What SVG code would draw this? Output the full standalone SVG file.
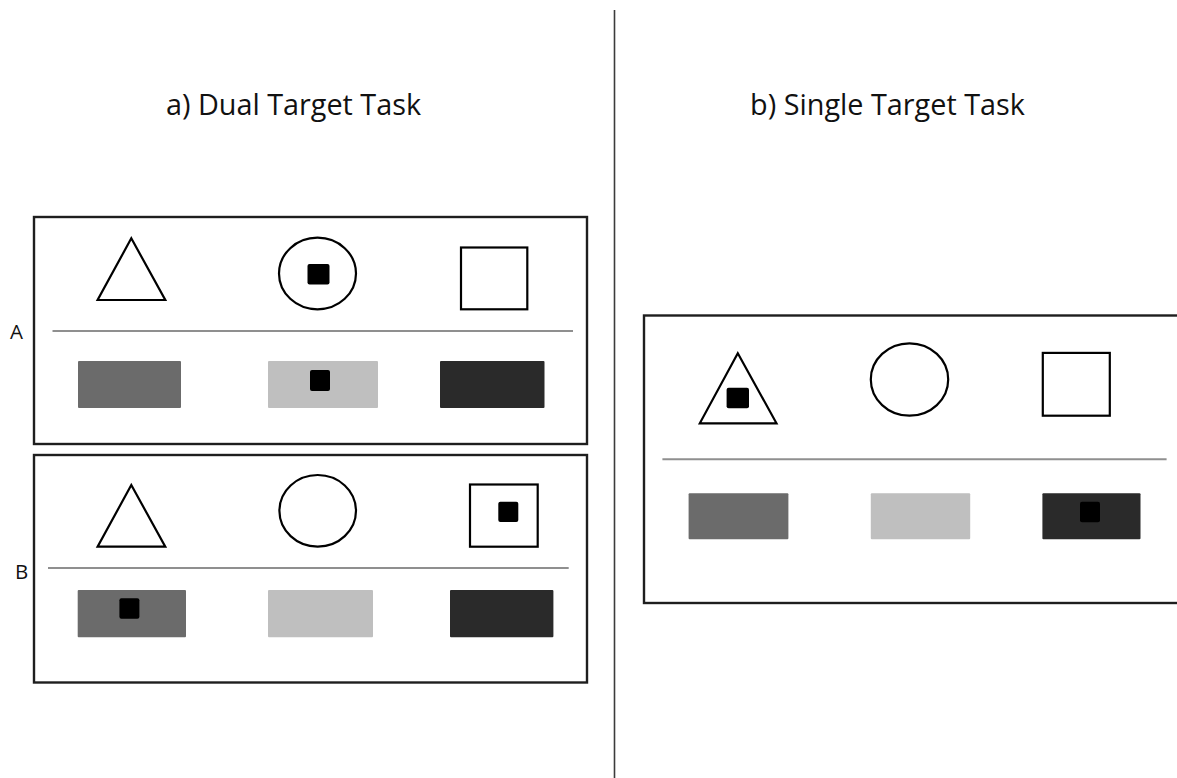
<svg xmlns="http://www.w3.org/2000/svg" width="1177" height="778" viewBox="0 0 1177 778">
  <style>
    .title { font-family: "Open Sans", "Liberation Sans", sans-serif; font-size: 28.8px; fill: #111; text-anchor: middle; }
    .label { font-family: "Open Sans", "Liberation Sans", sans-serif; font-size: 20.5px; fill: #111; text-anchor: middle; }
    .frame { fill: none; stroke: #1e1e1e; stroke-width: 2.4; }
    .shape { fill: #fff; stroke: #000; stroke-width: 2.2; stroke-linejoin: miter; }
    .sep { stroke: #8f8f8f; stroke-width: 2; }
    .mid { fill: #6b6b6b; }
    .light { fill: #bfbfbf; }
    .dark { fill: #2a2a2a; }
    .dot { fill: #000; }
  </style>

  <rect width="1177" height="778" fill="#fff"/>

  <!-- divider between the two conditions -->
  <g id="divider">
    <line x1="614.5" y1="10" x2="614.5" y2="778" stroke="#3c3c3c" stroke-width="1.6"/>
  </g>

  <!-- headings -->
  <g id="titles">
    <text class="title" x="293.5" y="115">a) Dual Target Task</text>
    <text class="title" x="887.5" y="115">b) Single Target Task</text>
  </g>

  <!-- dual target: display A -->
  <g id="display-a">
    <text class="label" x="16.5" y="339">A</text>
    <rect class="frame" x="34" y="217" width="553" height="227"/>
    <polygon class="shape" points="131.3,238.3 97.6,300 165.3,300"/>
    <ellipse class="shape" cx="317.5" cy="273.5" rx="38.5" ry="35.8"/>
    <rect class="dot" x="307.5" y="264" width="22" height="20.5" rx="2"/>
    <rect class="shape" x="461" y="247.5" width="66.3" height="61.8"/>
    <line class="sep" x1="52.5" y1="331" x2="573" y2="331"/>
    <rect class="mid" x="78" y="361" width="103" height="47" rx="1"/>
    <rect class="light" x="268" y="361" width="110" height="47" rx="1"/>
    <rect class="dot" x="310" y="370" width="20" height="21" rx="2"/>
    <rect class="dark" x="440" y="361" width="104.5" height="47" rx="1"/>
  </g>

  <!-- dual target: display B -->
  <g id="display-b">
    <text class="label" x="21.5" y="579">B</text>
    <rect class="frame" x="34" y="455" width="553" height="227.5"/>
    <polygon class="shape" points="131.3,485 97.6,546.7 165.3,546.7"/>
    <ellipse class="shape" cx="317.7" cy="510.8" rx="38.3" ry="35.8"/>
    <rect class="shape" x="470" y="484.5" width="67.7" height="62.2"/>
    <rect class="dot" x="498.3" y="501.7" width="20" height="20.3" rx="2"/>
    <line class="sep" x1="48" y1="568" x2="568.7" y2="568"/>
    <rect class="mid" x="77.7" y="590" width="108.3" height="47.3" rx="1"/>
    <rect class="dot" x="119.4" y="598.3" width="20" height="20.4" rx="2"/>
    <rect class="light" x="268" y="590" width="105" height="47.3" rx="1"/>
    <rect class="dark" x="450" y="590" width="103.4" height="47.3" rx="1"/>
  </g>

  <!-- single target display -->
  <g id="display-single">
    <rect class="frame" x="644" y="315.5" width="540" height="287.5"/>
    <polygon class="shape" points="737.8,353.3 699.8,423.3 776.5,423.3"/>
    <rect class="dot" x="726.6" y="387.7" width="22.4" height="20.6" rx="2"/>
    <ellipse class="shape" cx="909.5" cy="379.5" rx="38.7" ry="36.2"/>
    <rect class="shape" x="1042.8" y="352.9" width="67" height="62.8"/>
    <line class="sep" x1="662.4" y1="459.3" x2="1166.6" y2="459.3"/>
    <rect class="mid" x="688.6" y="493.3" width="99.8" height="46" rx="1"/>
    <rect class="light" x="870.8" y="493.3" width="99.4" height="46" rx="1"/>
    <rect class="dark" x="1042.4" y="493.3" width="98.1" height="46" rx="1"/>
    <rect class="dot" x="1080" y="501.7" width="20" height="20.6" rx="2"/>
  </g>
</svg>
